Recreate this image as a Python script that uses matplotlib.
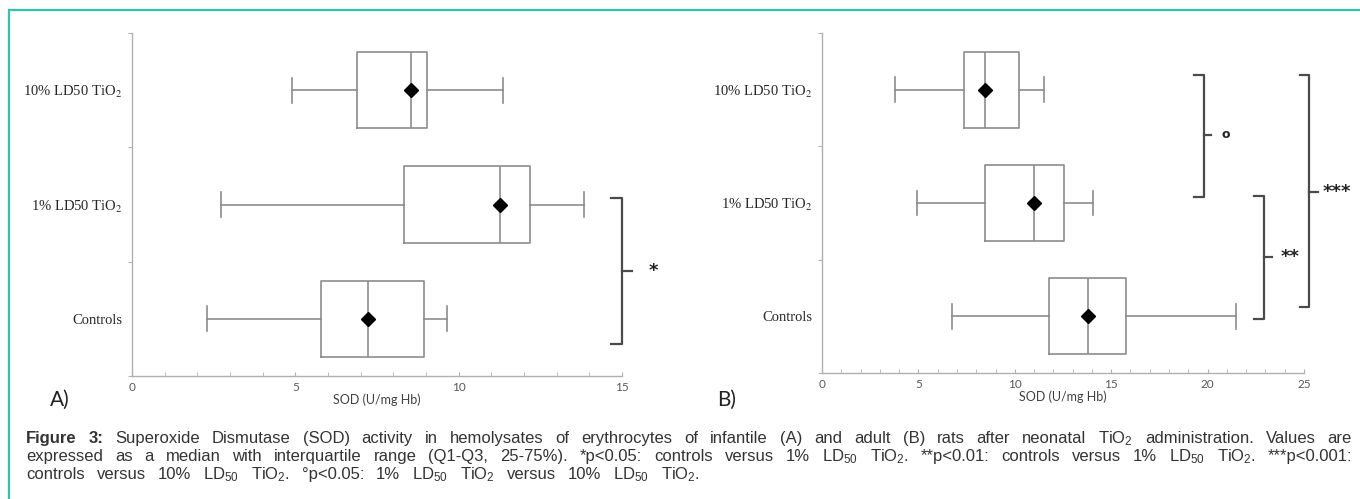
import matplotlib
matplotlib.use('Agg')
import matplotlib.pyplot as plt
from matplotlib.patches import Rectangle

plt.rcParams['mathtext.fontset'] = 'custom'
plt.rcParams['mathtext.rm'] = 'Liberation Sans'
plt.rcParams['mathtext.it'] = 'Liberation Sans:italic'
plt.rcParams['mathtext.bf'] = 'Liberation Sans:bold'

# groups from bottom to top
groups = ['Controls', '1% LD50 TiO$_2$', '10% LD50 TiO$_2$']

# A) infantile rats
a_low = [2.30, 2.72, 4.89]
a_q1 = [5.80, 8.34, 6.88]
a_med = [7.21, 11.28, 8.54]
a_q3 = [8.95, 12.17, 9.03]
a_high = [9.65, 13.83, 11.35]
a_mean = [7.21, 11.28, 8.54]

# B) adult rats
b_low = [6.73, 4.93, 3.81]
b_q1 = [11.78, 8.47, 7.39]
b_med = [13.81, 11.01, 8.47]
b_q3 = [15.77, 12.57, 10.20]
b_high = [21.46, 14.08, 11.51]
b_mean = [13.81, 11.01, 8.47]

caption = [
    'Figure 3: Superoxide Dismutase (SOD) activity in hemolysates of erythrocytes of infantile (A) and adult (B) '
    'rats after neonatal TiO$_2$ administration. Values are',
    'expressed as a median with interquartile range (Q1-Q3, 25-75%). *p<0.05: controls versus 1% LD$_{50}$ TiO$_2$. '
    '**p<0.01: controls versus 1% LD$_{50}$ TiO$_2$. ***p<0.001:',
    'controls versus 10% LD$_{50}$ TiO$_2$. \u00b0p<0.05: 1% LD$_{50}$ TiO$_2$ versus 10% LD$_{50}$ TiO$_2$.',
]

W, H = 1360, 499
GREY = '#8c8c8c'
fig = plt.figure(figsize=(W / 100, H / 100), dpi=100)


def box_panel(rect, low, q1, med, q3, high, mean, xmax, letter, letter_x):
    ax = fig.add_axes(rect)
    stats = []
    for i in range(len(groups)):
        stats.append(dict(whislo=low[i], q1=q1[i], med=med[i], q3=q3[i],
                          whishi=high[i], mean=mean[i], fliers=[]))
    ax.bxp(stats, positions=[0.5, 1.5, 2.5], widths=0.67, capwidths=0.22,
           orientation='horizontal', showmeans=True,
           boxprops=dict(color=GREY, lw=1.2),
           whiskerprops=dict(color=GREY, lw=1.2),
           capprops=dict(color=GREY, lw=1.2),
           medianprops=dict(color=GREY, lw=1.2),
           meanprops=dict(marker='D', markerfacecolor='black',
                          markeredgecolor='black', markersize=7))
    ax.set_xlim(0, xmax)
    ax.set_ylim(0, 3)
    ax.set_xticks(range(0, xmax + 1, 5))
    ax.set_xticks(range(0, xmax + 1), minor=True)
    ax.set_yticks([0, 1, 2, 3])
    ax.set_yticklabels([])
    ax.set_yticks([0.5, 1.5, 2.5], minor=True)
    ax.set_yticklabels(groups, minor=True, fontfamily='Liberation Serif',
                       math_fontfamily='stix', fontsize=10.5, color='#262626')
    ax.tick_params(axis='y', which='major', direction='out', length=3, color='#b0b0b0')
    ax.tick_params(axis='y', which='minor', length=0, pad=7)
    ax.tick_params(axis='x', which='both', direction='in', length=3, color='#b0b0b0',
                   labelsize=8.5, labelcolor='#595959', pad=4)
    for lab in ax.get_xticklabels():
        lab.set_fontfamily('Lato')
    for s in ['top', 'right']:
        ax.spines[s].set_visible(False)
    for s in ['left', 'bottom']:
        ax.spines[s].set_color('#b0b0b0')
        ax.spines[s].set_linewidth(1.0)
    ax.set_xlabel('SOD (U/mg Hb)', fontfamily='Lato', fontsize=9,
                  color='#404040', labelpad=1)
    fig.text(letter_x / W, 1 - 400 / H, letter, fontfamily='Lato', fontsize=15,
             color='#222222', va='center', ha='left')
    return ax


def bracket(ax, x, y0, y1, ym, arm, tip, label, lx, **kw):
    c = '#4a4a4a'
    ax.plot([x - arm, x, x, x - arm], [y1, y1, y0, y0], color=c, lw=1.6,
            clip_on=False, solid_joinstyle='round')
    ax.plot([x, x + tip], [ym, ym], color=c, lw=1.6, clip_on=False)
    ax.text(lx, ym, label, ha='center', va='center', color='#222222',
            clip_on=False, **kw)


axA = box_panel([132 / W, 1 - 376 / H, 490 / W, 343 / H],
                a_low, a_q1, a_med, a_q3, a_high, a_mean, 15, 'A)', 50)
bracket(axA, 15.0, 0.28, 1.56, 0.92, 0.34, 0.3, '*', 15.95,
        fontsize=13, fontweight='bold', fontfamily='DejaVu Sans')

axB = box_panel([822 / W, 1 - 373 / H, 482 / W, 340 / H],
                b_low, b_q1, b_med, b_q3, b_high, b_mean, 25, 'B)', 717)
bracket(axB, 19.8, 1.55, 2.63, 2.10, 0.5, 0.4, 'o', 20.95,
        fontsize=9, fontweight='bold', fontfamily='DejaVu Sans')
bracket(axB, 22.9, 0.48, 1.56, 1.02, 0.5, 0.45, '**', 24.3,
        fontsize=13, fontweight='bold', fontfamily='DejaVu Sans')
bracket(axB, 25.27, 0.58, 2.63, 1.60, 0.5, 0.45, '***', 26.7,
        fontsize=13, fontweight='bold', fontfamily='DejaVu Sans')

# teal frame
fig.patches.append(Rectangle((9 / W, -0.1), 1.2, 1.1 - 10 / H, transform=fig.transFigure,
                             fill=False, edgecolor='#2ec4ac', lw=1.6))

# justified caption
renderer = fig.canvas.get_renderer()
x0, x1 = 26, 1352
baselines = [443, 461, 479]
gaps = []
for li, line in enumerate(caption):
    words = line.split(' ')
    texts = []
    for wi, w in enumerate(words):
        bold = li == 0 and wi < 2
        t = fig.text(0, 1 - baselines[li] / H, w, fontfamily='Liberation Sans',
                     fontsize=12, color='#333333', va='baseline', ha='left',
                     fontweight='bold' if bold else 'normal')
        texts.append(t)
    widths = [t.get_window_extent(renderer).width for t in texts]
    if li < len(caption) - 1:
        gap = (x1 - x0 - sum(widths)) / (len(words) - 1)
        gaps.append(gap)
    else:
        gap = sum(gaps) / len(gaps)
    x = x0
    for t, w in zip(texts, widths):
        t.set_x(x / W)
        x += w + gap

fig.savefig('out.png', dpi=100)
